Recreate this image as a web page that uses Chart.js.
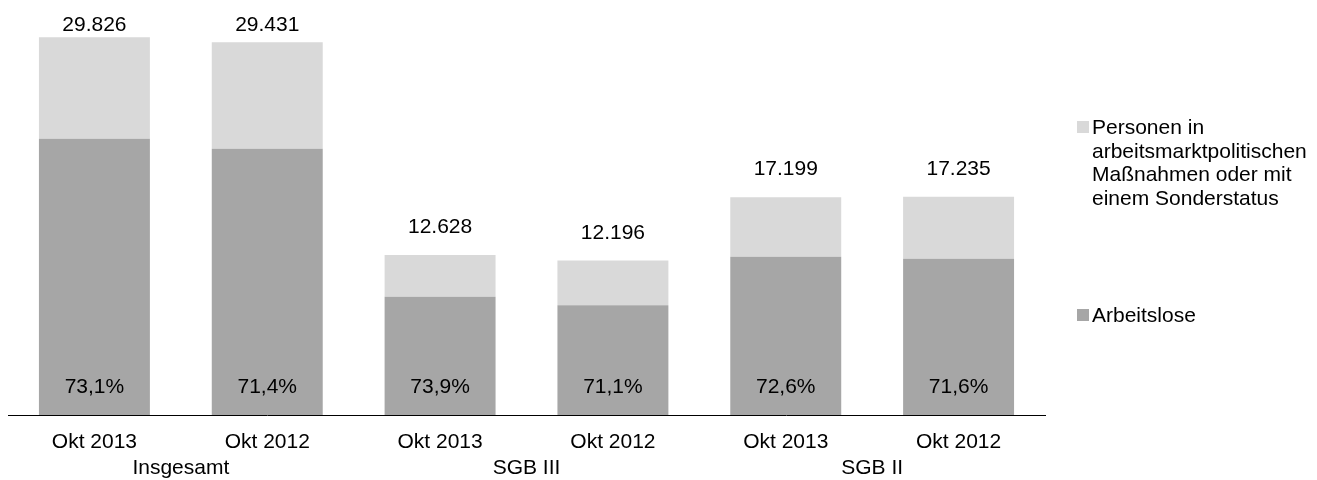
<!DOCTYPE html>
<html>
<head>
<meta charset="utf-8">
<script src="https://cdn.jsdelivr.net/npm/chart.js@4"></script>
<style>
    html, body { margin: 0; padding: 0; background: #fff; }
    #wrap { width: 1317px; height: 480px; }
</style>
</head>
<body>
<div id="wrap"><canvas id="chart"></canvas></div>
<script>
// Chart data
const categories = ['Okt 2013', 'Okt 2012', 'Okt 2013', 'Okt 2012', 'Okt 2013', 'Okt 2012'];
const groups = ['Insgesamt', 'SGB III', 'SGB II'];
const arbeitslose = [21803, 21014, 9332, 8671, 12486, 12340];
const massnahmen = [8023, 8417, 3296, 3525, 4713, 4895];
const totalLabels = ['29.826', '29.431', '12.628', '12.196', '17.199', '17.235'];
const shareLabels = ['73,1%', '71,4%', '73,9%', '71,1%', '72,6%', '71,6%'];

const FONT = '21px "Liberation Sans", Arial, sans-serif';

// Labels above / inside bars, category and group labels, legend
const labelPlugin = {
    id: 'labels',
    afterDatasetsDraw(chart) {
        const ctx = chart.ctx;
        const x = chart.scales.x;
        const y = chart.scales.y;
        ctx.save();
        ctx.font = FONT;
        ctx.fillStyle = '#000';
        ctx.textAlign = 'center';
        ctx.textBaseline = 'alphabetic';

        categories.forEach((cat, i) => {
            const px = x.getPixelForValue(i);
            const top = y.getPixelForValue(arbeitslose[i] + massnahmen[i]);
            // labels sit ~22px over the bar, but never higher than the top line
            ctx.fillText(totalLabels[i], px, Math.max(31, top - 22));
            ctx.fillText(shareLabels[i], px, y.bottom - 22);
            ctx.fillText(cat, px, y.bottom + 33);
        });

        groups.forEach((g, i) => {
            const px = (x.getPixelForValue(i * 2) + x.getPixelForValue(i * 2 + 1)) / 2;
            ctx.fillText(g, px, y.bottom + 59);
        });

        // legend
        ctx.textAlign = 'left';
        const legend = [
            { color: chart.data.datasets[1].backgroundColor, lines: ['Personen in', 'arbeitsmarktpolitischen', 'Maßnahmen oder mit', 'einem Sonderstatus'], top: 134 },
            { color: chart.data.datasets[0].backgroundColor, lines: ['Arbeitslose'], top: 322 }
        ];
        legend.forEach(item => {
            ctx.fillStyle = item.color;
            ctx.fillRect(1077, item.top - 13, 12, 12);
            ctx.fillStyle = '#000';
            item.lines.forEach((line, j) => {
                ctx.fillText(line, 1092, item.top + j * 23.5);
            });
        });
        ctx.restore();
    }
};

const ctx = document.getElementById('chart').getContext('2d');
new Chart(ctx, {
    type: 'bar',
    data: {
        labels: categories,
        datasets: [{
            label: 'Arbeitslose',
            data: arbeitslose,
            backgroundColor: '#a6a6a6',
            barPercentage: 0.642,
            categoryPercentage: 1
        }, {
            label: 'Personen in arbeitsmarktpolitischen Maßnahmen oder mit einem Sonderstatus',
            data: massnahmen,
            backgroundColor: '#d9d9d9',
            barPercentage: 0.642,
            categoryPercentage: 1
        }]
    },
    options: {
        responsive: true,
        maintainAspectRatio: false,
        animation: false,
        layout: {
            padding: { left: 8, right: 272, top: 35, bottom: 57 }
        },
        plugins: {
            legend: { display: false },
            tooltip: { enabled: false }
        },
        scales: {
            x: {
                stacked: true,
                grid: { display: false },
                ticks: { display: false },
                border: { display: true, color: '#000', width: 1 }
            },
            y: {
                stacked: true,
                display: false,
                min: 0,
                max: 30000
            }
        }
    },
    plugins: [labelPlugin]
});
</script>
</body>
</html>
